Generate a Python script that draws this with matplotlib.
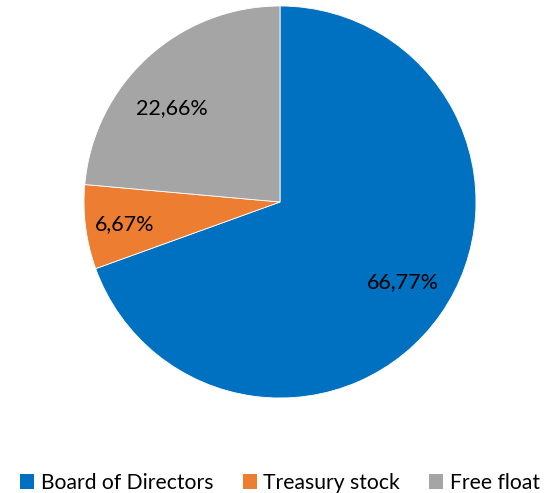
import matplotlib
matplotlib.use("Agg")
import matplotlib.pyplot as plt
from matplotlib.patches import Patch

categories = ["Board of Directors", "Treasury stock", "Free float"]
values = [66.77, 6.67, 22.66]
label_texts = ["66,77%", "6,67%", "22,66%"]
colors = ["#0070C0", "#ED7D31", "#A5A5A5"]

# label placement (axes data units, radius = 1)
label_pos = [(0.628, -0.40), (-0.791, -0.10), (-0.551, 0.49)]

plt.rcParams['font.family'] = ['Lato', 'DejaVu Sans']

fig = plt.figure(figsize=(5.53, 4.93), dpi=100)
ax = fig.add_axes([84/553, (493-398)/493, 392/553, 392/493])

it = iter(label_texts)
wedges, texts, autotexts = ax.pie(
    values, colors=colors, startangle=90, counterclock=False,
    autopct=lambda p: next(it), pctdistance=0.76,
    wedgeprops=dict(edgecolor="white", linewidth=0.6),
    textprops=dict(fontsize=15.5, color="black"), radius=1.0)
for t, pos in zip(autotexts, label_pos):
    t.set_position(pos)
    t.set_va("center_baseline")
ax.set_xlim(-1, 1)
ax.set_ylim(-1, 1)
ax.set_aspect("equal")
ax.axis("off")

handles = [Patch(facecolor=c, edgecolor="none") for c in colors]
fig.legend(handles, categories, loc="center", bbox_to_anchor=(280/553, 1 - 483/493),
           ncol=3, frameon=False, fontsize=15.2, handlelength=0.66, handleheight=0.66,
           handletextpad=0.3, columnspacing=1.4, borderaxespad=0, borderpad=0)

fig.savefig("out.png", dpi=100)
